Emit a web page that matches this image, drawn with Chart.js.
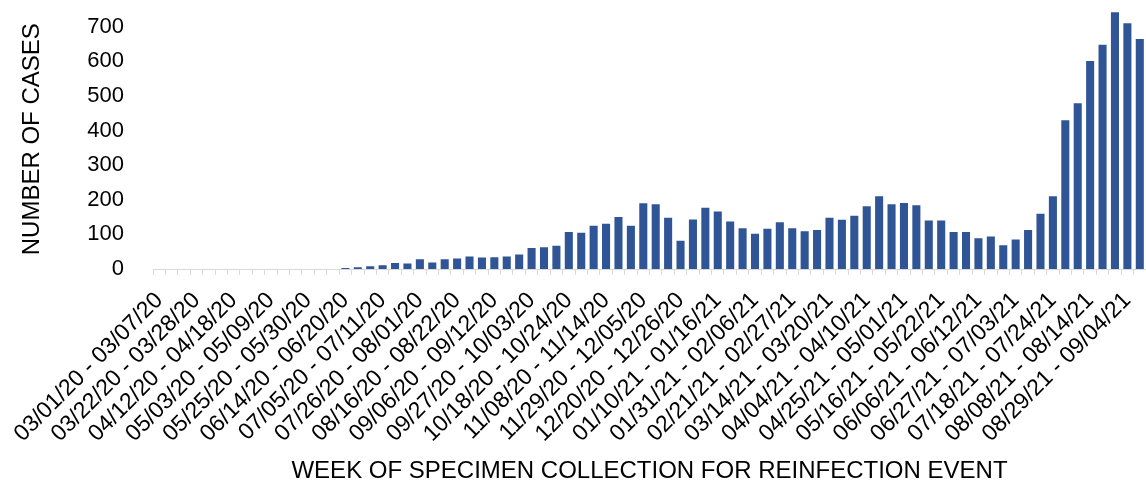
<!DOCTYPE html>
<html>
<head>
<meta charset="utf-8">
<script src="https://cdn.jsdelivr.net/npm/chart.js@4"></script>
<style>
  html, body { margin: 0; padding: 0; background: #fff; }
  #wrap { width: 1146px; height: 483px; position: relative; }
</style>
</head>
<body>
<div id="wrap"><canvas id="myChart"></canvas></div>
<script>
// weekly categories (every 3rd one gets a visible label)
const weeks = [
  '03/01/20 - 03/07/20', '03/08/20 - 03/14/20', '03/15/20 - 03/21/20',
  '03/22/20 - 03/28/20', '03/29/20 - 04/04/20', '04/05/20 - 04/11/20',
  '04/12/20 - 04/18/20', '04/19/20 - 04/25/20', '04/26/20 - 05/02/20',
  '05/03/20 - 05/09/20', '05/10/20 - 05/16/20', '05/17/20 - 05/23/20',
  '05/25/20 - 05/30/20', '05/31/20 - 06/06/20', '06/07/20 - 06/13/20',
  '06/14/20 - 06/20/20', '06/21/20 - 06/27/20', '06/28/20 - 07/04/20',
  '07/05/20 - 07/11/20', '07/12/20 - 07/18/20', '07/19/20 - 07/25/20',
  '07/26/20 - 08/01/20', '08/02/20 - 08/08/20', '08/09/20 - 08/15/20',
  '08/16/20 - 08/22/20', '08/23/20 - 08/29/20', '08/30/20 - 09/05/20',
  '09/06/20 - 09/12/20', '09/13/20 - 09/19/20', '09/20/20 - 09/26/20',
  '09/27/20 - 10/03/20', '10/04/20 - 10/10/20', '10/11/20 - 10/17/20',
  '10/18/20 - 10/24/20', '10/25/20 - 10/31/20', '11/01/20 - 11/07/20',
  '11/08/20 - 11/14/20', '11/15/20 - 11/21/20', '11/22/20 - 11/28/20',
  '11/29/20 - 12/05/20', '12/06/20 - 12/12/20', '12/13/20 - 12/19/20',
  '12/20/20 - 12/26/20', '12/27/20 - 01/02/21', '01/03/21 - 01/09/21',
  '01/10/21 - 01/16/21', '01/17/21 - 01/23/21', '01/24/21 - 01/30/21',
  '01/31/21 - 02/06/21', '02/07/21 - 02/13/21', '02/14/21 - 02/20/21',
  '02/21/21 - 02/27/21', '02/28/21 - 03/06/21', '03/07/21 - 03/13/21',
  '03/14/21 - 03/20/21', '03/21/21 - 03/27/21', '03/28/21 - 04/03/21',
  '04/04/21 - 04/10/21', '04/11/21 - 04/17/21', '04/18/21 - 04/24/21',
  '04/25/21 - 05/01/21', '05/02/21 - 05/08/21', '05/09/21 - 05/15/21',
  '05/16/21 - 05/22/21', '05/23/21 - 05/29/21', '05/30/21 - 06/05/21',
  '06/06/21 - 06/12/21', '06/13/21 - 06/19/21', '06/20/21 - 06/26/21',
  '06/27/21 - 07/03/21', '07/04/21 - 07/10/21', '07/11/21 - 07/17/21',
  '07/18/21 - 07/24/21', '07/25/21 - 07/31/21', '08/01/21 - 08/07/21',
  '08/08/21 - 08/14/21', '08/15/21 - 08/21/21', '08/22/21 - 08/28/21',
  '08/29/21 - 09/04/21', '09/05/21 - 09/11/21'
];

const cases = [
  0, 0, 0, 0, 0, 0, 0, 0, 0, 0, 0, 0, 0, 0, 0,
  3, 5, 8, 11, 17, 16, 28, 19, 28, 30, 36, 33, 34, 36, 42,
  61, 63, 67, 107, 105, 125, 131, 150, 125, 190, 187, 148, 82, 143, 177,
  166, 137, 118, 102, 116, 135, 118, 109, 113, 148, 142, 154, 181, 210, 187,
  191, 184, 140, 140, 107, 107, 89, 94, 69, 85, 113, 160, 210, 430, 479,
  601, 648, 742, 710, 665
];

const yTicks = [0, 100, 200, 300, 400, 500, 600, 700];
const yMax = 750;
const labelEvery = 3;

const fontFamily = "'Liberation Sans', Arial, sans-serif";

const chartvar = document.getElementById('myChart');
const ctx = chartvar.getContext('2d');

const config = {
  type: 'bar',
  data: {
    labels: weeks,
    datasets: [{
      label: 'Cases',
      data: cases,
      backgroundColor: '#2F5597',
      borderWidth: 0,
      barPercentage: 0.65,
      categoryPercentage: 1
    }]
  },
  options: {
    responsive: true,
    maintainAspectRatio: false,
    animation: false,
    layout: { padding: { top: 9.5, right: 0, bottom: 0, left: 0 } },
    plugins: {
      legend: { display: false },
      tooltip: { enabled: false }
    },
    scales: {
      x: {
        offset: true,
        border: { display: true, color: '#d9d9d9', width: 1 },
        grid: {
          display: true,
          offset: true,
          drawOnChartArea: false,
          drawTicks: true,
          tickLength: 6,
          color: '#d9d9d9',
          lineWidth: 1
        },
        ticks: {
          autoSkip: false,
          minRotation: 45,
          maxRotation: 45,
          padding: 12,
          color: '#000',
          font: { family: fontFamily, size: 23 },
          callback(value, index) {
            return index % labelEvery === 0 ? weeks[index] : '';
          }
        },
        title: {
          display: true,
          text: 'WEEK OF SPECIMEN COLLECTION FOR REINFECTION EVENT',
          color: '#000',
          font: { family: fontFamily, size: 24, lineHeight: 1 },
          padding: { top: 0, bottom: 0 }
        },
        afterFit(scale) {
          scale.height = 214;
          scale.paddingLeft = 0;
          scale.paddingRight = 0;
        }
      },
      y: {
        min: 0,
        max: yMax,
        border: { display: false },
        grid: { display: false },
        ticks: {
          padding: 21,
          color: '#000',
          font: { family: fontFamily, size: 22 }
        },
        afterBuildTicks(scale) {
          // only the round hundreds are labelled, not the 750 top
          scale.ticks = yTicks.map((v) => ({ value: v }));
        },
        title: {
          display: true,
          text: 'NUMBER OF CASES',
          color: '#000',
          font: { family: fontFamily, size: 24, lineHeight: 1.2 },
          padding: { top: 18, bottom: 0 }
        },
        afterFit(scale) {
          scale.width = 153;
          scale.paddingTop = 0;
          scale.paddingBottom = 0;
        }
      }
    }
  }
};

const myChart = new Chart(ctx, config);
</script>
</body>
</html>
